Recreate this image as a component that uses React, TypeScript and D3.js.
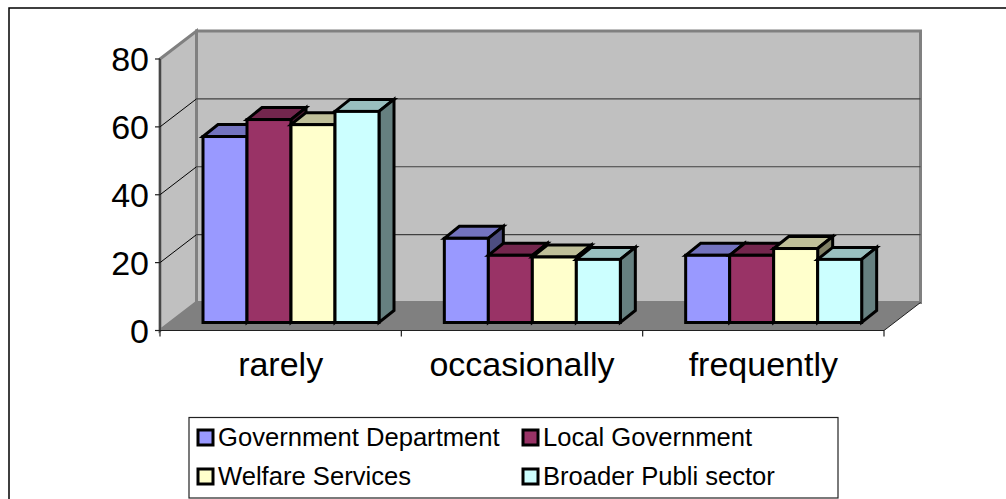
import React from 'react';
import * as d3 from 'd3';

const categories = ['rarely', 'occasionally', 'frequently'];
const seriesNames = ['Government Department', 'Local Government', 'Welfare Services', 'Broader Publi sector'];
const govDept = [54.8, 24.8, 19.8];
const localGov = [59.8, 19.8, 19.8];
const welfare = [58.3, 19.3, 21.8];
const broader = [62.2, 18.6, 18.6];
const seriesValues = [govDept, localGov, welfare, broader];
const seriesColors = ['#9999FF', '#993366', '#FFFFCC', '#CCFFFF'];
const yTicks = [0, 20, 40, 60, 80];

const width = 1006;
const height = 499;
const font = '"Liberation Sans", Arial, sans-serif';

// oblique offset of the chart box, front plane to back wall
const depth = { x: 36.5, y: -28 };
// same thing for a single bar
const barDepth = { x: 15, y: -12 };
const barLift = 8;

const x0 = d3.scaleBand<string>().domain(categories).range([160, 884]);
const x1 = d3.scaleBand<string>().domain(seriesNames).range([43, 219]);
const y = d3.scaleLinear().domain([0, 80]).range([330.5, 59]);

const poly = d3.line<[number, number]>().x(d => d[0]).y(d => d[1]);
const closed = (pts: [number, number][]) => `${poly(pts)}Z`;

const shade = (color: string, k: number) => {
  const c = d3.rgb(color);
  return d3.rgb(c.r * k, c.g * k, c.b * k).formatHex();
};

const Bar: React.FC<{ left: number; w: number; top: number; base: number; color: string }> = ({ left, w, top, base, color }) => {
  const { x: dx, y: dy } = barDepth;
  const right = left + w;
  return (
    <g stroke="#000" strokeWidth={3} strokeLinejoin="miter">
      <path d={closed([[left, top], [left + dx, top + dy], [right + dx, top + dy], [right, top]])} fill={shade(color, 0.75)} />
      <path d={closed([[right, top], [right + dx, top + dy], [right + dx, base + dy], [right, base]])} fill={shade(color, 0.5)} />
      <rect x={left} y={top} width={w} height={base - top} fill={color} />
    </g>
  );
};

export default function App() {
  const xL = x0.range()[0];
  const xR = x0.range()[1];
  const yBottom = y(0);
  const yTop = y(80);
  const base = yBottom - barLift;

  return (
    <svg width={width} height={height} viewBox={`0 0 ${width} ${height}`} style={{ position: 'absolute', left: 0, top: 0, background: '#fff' }}>
      {/* outer frame runs off the right and bottom edges */}
      <rect x={9} y={8} width={1040} height={560} fill="none" stroke="#000" strokeWidth={1.5} />

      {/* walls and floor */}
      <path
        d={closed([[xL + depth.x, yTop + depth.y], [xR + depth.x, yTop + depth.y], [xR + depth.x, yBottom + depth.y], [xL + depth.x, yBottom + depth.y]])}
        fill="#C0C0C0"
        stroke="#808080"
        strokeWidth={3}
      />
      <path
        d={closed([[xL, yTop], [xL + depth.x, yTop + depth.y], [xL + depth.x, yBottom + depth.y], [xL, yBottom]])}
        fill="#C0C0C0"
        stroke="#808080"
        strokeWidth={3}
      />
      <path
        d={closed([[xL, yBottom], [xL + depth.x, yBottom + depth.y], [xR + depth.x, yBottom + depth.y], [xR, yBottom]])}
        fill="#808080"
      />

      {/* gridlines */}
      {yTicks.filter(t => t > 0 && t < 80).map(t => (
        <g key={t} fill="none">
          <line x1={xL} y1={y(t)} x2={xL + depth.x} y2={y(t) + depth.y} stroke="#000" strokeWidth={1} />
          <line x1={xL + depth.x} y1={y(t) + depth.y} x2={xR + depth.x} y2={y(t) + depth.y} stroke="#404040" strokeWidth={1.2} />
        </g>
      ))}

      {/* bars */}
      {categories.map((cat, ci) => (
        <g key={cat}>
          {seriesNames.map((name, si) => (
            <Bar
              key={name}
              left={(x0(cat) as number) + (x1(name) as number)}
              w={x1.bandwidth()}
              top={y(seriesValues[si][ci]) - barLift}
              base={base}
              color={seriesColors[si]}
            />
          ))}
        </g>
      ))}

      {/* axes */}
      <line x1={xL} y1={yTop} x2={xL} y2={yBottom + 6} stroke="#202020" strokeWidth={1.2} />
      <line x1={xL} y1={yBottom} x2={xR} y2={yBottom} stroke="#202020" strokeWidth={1.2} />
      <line x1={xR} y1={yBottom} x2={xR + depth.x} y2={yBottom + depth.y} stroke="#202020" strokeWidth={1} />
      {yTicks.map(t => (
        <g key={t}>
          <line x1={xL - 5} y1={y(t)} x2={xL} y2={y(t)} stroke="#202020" strokeWidth={1.2} />
          <text x={149} y={y(t) + 12} textAnchor="end" fontFamily={font} fontSize={34}>{t}</text>
        </g>
      ))}
      {categories.map(cat => (
        <g key={cat}>
          <line x1={(x0(cat) as number) + x0.bandwidth()} y1={yBottom} x2={(x0(cat) as number) + x0.bandwidth()} y2={yBottom + 6} stroke="#202020" strokeWidth={1.2} />
          <text x={(x0(cat) as number) + x0.bandwidth() / 2} y={376} textAnchor="middle" fontFamily={font} fontSize={34}>{cat}</text>
        </g>
      ))}

      {/* legend */}
      <rect x={189} y={417.5} width={649} height={80.5} fill="#fff" stroke="#222" strokeWidth={1.2} />
      {seriesNames.map((name, i) => {
        const lx = i % 2 === 0 ? 198 : 523;
        const ly = i < 2 ? 430 : 469;
        return (
          <g key={name}>
            <rect x={lx} y={ly} width={15} height={15} fill={seriesColors[i]} stroke="#000" strokeWidth={3} />
            <text x={lx + 20} y={ly + 16} fontFamily={font} fontSize={25.6}>{name}</text>
          </g>
        );
      })}
    </svg>
  );
}
